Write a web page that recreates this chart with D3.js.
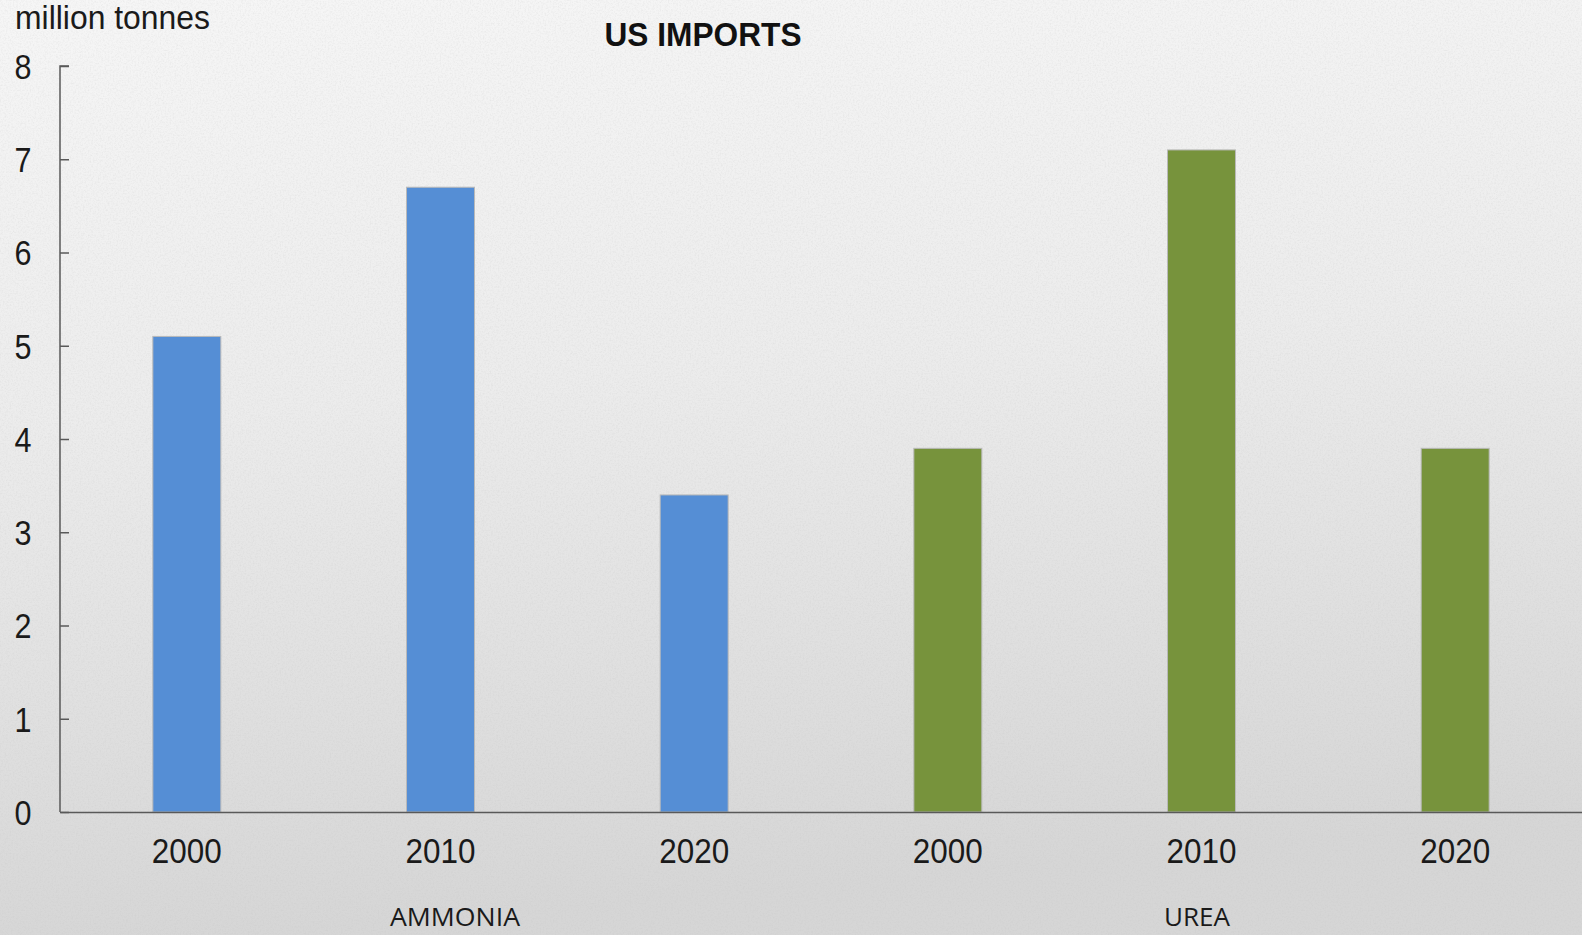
<!DOCTYPE html>
<html>
<head>
<meta charset="utf-8">
<script src="https://cdn.jsdelivr.net/npm/d3@7/dist/d3.min.js"></script>
<style>
  html, body { margin: 0; padding: 0; background: #e6e6e6; }
  svg { display: block; }
</style>
</head>
<body>
<svg id="chart" width="1582" height="935"></svg>
<script>
// US imports of ammonia and urea, million tonnes
const years = ["2000", "2010", "2020"];
const products = ["AMMONIA", "UREA"];
const ammoniaValues = [5.1, 6.7, 3.4];
const ureaValues = [3.9, 7.1, 3.9];
const yTicks = [0, 1, 2, 3, 4, 5, 6, 7, 8];
const productColors = ["#558ed5", "#77933c"];

const rows = [];
products.forEach((p, gi) => {
  const vals = gi === 0 ? ammoniaValues : ureaValues;
  years.forEach((yr, i) => rows.push({ key: p + "-" + yr, product: p, year: yr, value: vals[i], group: gi }));
});

const W = 1582, H = 935;
const svg = d3.select("#chart");
const defs = svg.append("defs");

// paper-like backdrop: soft vertical gradient with fine grain
const grad = defs.append("linearGradient").attr("id", "bg").attr("x1", 0).attr("y1", 0).attr("x2", 0.15).attr("y2", 1);
grad.append("stop").attr("offset", "0%").attr("stop-color", "#f6f6f6");
grad.append("stop").attr("offset", "45%").attr("stop-color", "#ececec");
grad.append("stop").attr("offset", "100%").attr("stop-color", "#d6d6d6");

const grain = defs.append("filter").attr("id", "grain").attr("x", 0).attr("y", 0).attr("width", "100%").attr("height", "100%");
grain.append("feTurbulence").attr("type", "fractalNoise").attr("baseFrequency", 0.6).attr("numOctaves", 3).attr("seed", 4).attr("result", "n");
grain.append("feColorMatrix").attr("in", "n").attr("type", "matrix")
  .attr("values", "0 0 0 0 0.5  0 0 0 0 0.5  0 0 0 0 0.5  0 0 0 -1.6 0.95");

svg.append("rect").attr("width", W).attr("height", H).attr("fill", "url(#bg)");
svg.append("rect").attr("width", W).attr("height", H).attr("filter", "url(#grain)").attr("opacity", 0.24);

const margin = { left: 60, right: 0, top: 66, bottom: 123 };
const x = d3.scaleBand()
  .domain(rows.map(d => d.key))
  .range([margin.left, W - margin.right])
  .paddingInner(0.732)
  .paddingOuter(0.366);
const y = d3.scaleLinear().domain([0, 8]).range([H - margin.bottom, margin.top]);

const sans = "'Liberation Sans', Arial, sans-serif";

// condense a text element horizontally to a fixed advance width
function fitWidth(sel, w) {
  sel.attr("textLength", w).attr("lengthAdjust", "spacingAndGlyphs");
}

// bars
svg.append("g").selectAll("rect").data(rows).join("rect")
  .attr("x", d => x(d.key))
  .attr("y", d => y(d.value))
  .attr("width", x.bandwidth())
  .attr("height", d => y(0) - y(d.value))
  .attr("fill", d => productColors[d.group])
  .attr("stroke", "#b9b9b9")
  .attr("stroke-width", 1);

// y axis with inward ticks
const yAxis = svg.append("g").attr("transform", `translate(${margin.left},0)`)
  .call(d3.axisRight(y).tickValues(yTicks).tickSize(9).tickFormat(d3.format("d")).tickPadding(0));
yAxis.select(".domain").attr("d", `M9,${y(8)}H0V${y(0)}`).attr("stroke", "#595959").attr("stroke-width", 1.5);
yAxis.selectAll(".tick line").attr("stroke", "#595959").attr("stroke-width", 1.5);
yAxis.selectAll(".tick text")
  .attr("x", -37).attr("dy", "0.35em").attr("text-anchor", "middle")
  .attr("fill", "#1a1a1a").style("font-family", sans).style("font-size", "35px")
  .call(fitWidth, 17);

// x axis line and year labels
const xAxis = svg.append("g").attr("transform", `translate(0,${y(0)})`)
  .call(d3.axisBottom(x).tickSize(0).tickPadding(0).tickFormat(k => rows.find(r => r.key === k).year));
xAxis.select(".domain").attr("stroke", "#595959").attr("stroke-width", 1.5);
xAxis.selectAll(".tick text")
  .attr("y", 51).attr("dy", 0)
  .attr("fill", "#1a1a1a").style("font-family", sans).style("font-size", "35px")
  .call(fitWidth, 70);

// product group labels
const groupCenters = [455, 1197];
const groupWidths = [130, 66];
svg.append("g").selectAll("text").data(products).join("text")
  .attr("x", (d, i) => groupCenters[i])
  .attr("y", 926)
  .attr("text-anchor", "middle")
  .attr("fill", "#1a1a1a")
  .style("font-family", "'Open Sans', 'Noto Sans', sans-serif")
  .style("font-size", "26px")
  .each(function (d, i) { d3.select(this).call(fitWidth, groupWidths[i]); })
  .text(d => d);

// unit label and title
svg.append("text").attr("x", 15).attr("y", 29)
  .attr("fill", "#1a1a1a").style("font-family", sans).style("font-size", "33px")
  .call(fitWidth, 195)
  .text("million tonnes");
svg.append("text").attr("x", 703).attr("y", 46).attr("text-anchor", "middle")
  .attr("fill", "#111").style("font-family", sans).style("font-weight", "bold").style("font-size", "34px")
  .call(fitWidth, 197)
  .text("US IMPORTS");
</script>
</body>
</html>
